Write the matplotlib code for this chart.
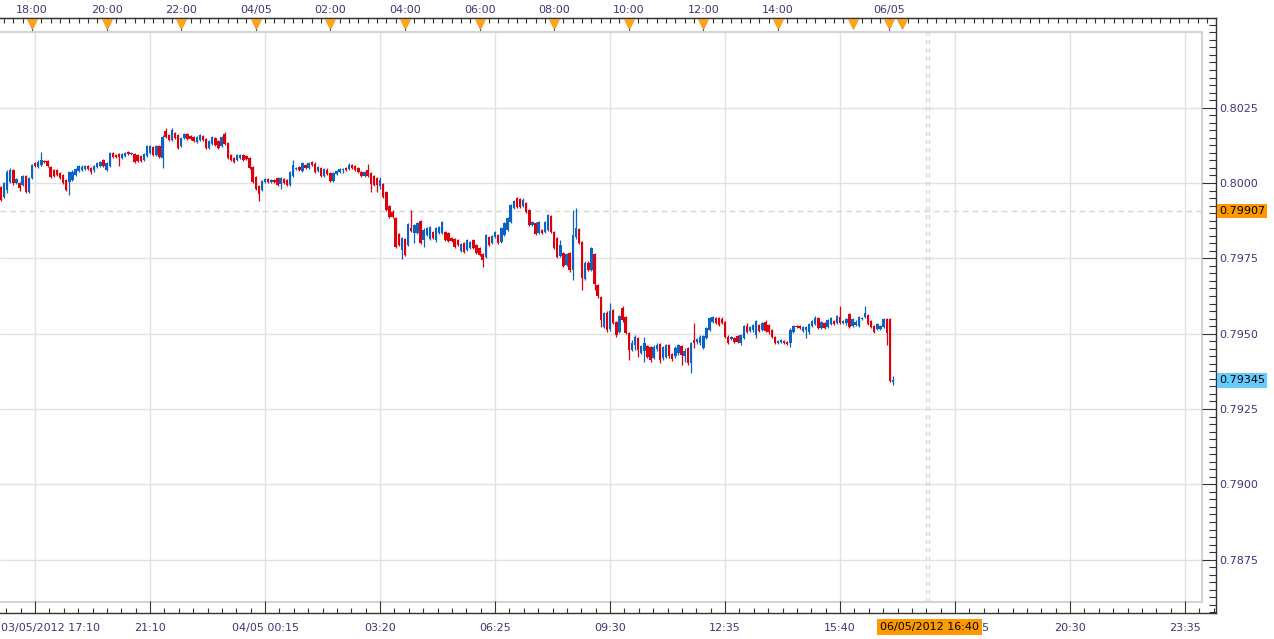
import matplotlib
matplotlib.use("Agg")
import matplotlib.pyplot as plt
import matplotlib.transforms as mtransforms
from matplotlib.patches import Rectangle
from matplotlib.ticker import MultipleLocator

# 5 minute candles, prices in points (1 point = 0.00001)
opens = [
    79987, 79954, 79977, 80003, 80043, 80000, 80000, 79993, 80023, 79970,
    80017, 80066, 80053, 80060, 80073, 80073, 80053, 80043, 80043, 80033,
    80027, 80010, 80003, 80010, 80027, 80040, 80043, 80046, 80056, 80050,
    80043, 80053, 80056, 80076, 80043, 80056, 80100, 80093, 80096, 80083,
    80090, 80103, 80096, 80096, 80093, 80090, 80076, 80090, 80100, 80120,
    80093, 80123, 80083, 80173, 80159, 80143, 80166, 80159, 80123, 80149,
    80163, 80156, 80153, 80136, 80143, 80156, 80146, 80116, 80129, 80149,
    80139, 80123, 80163, 80133, 80093, 80083, 80076, 80083, 80093, 80090,
    80083, 80053, 80020, 79990, 79977, 80003, 80013, 80003, 80010, 80017,
    79997, 80013, 80010, 79993, 80023, 80046, 80053, 80040, 80060, 80050,
    80070, 80063, 80040, 80050, 80023, 80043, 80033, 80007, 80030, 80037,
    80043, 80050, 80046, 80060, 80056, 80050, 80037, 80023, 80043, 80033,
    80023, 80017, 79990, 79997, 79970, 79924, 79904, 79884, 79831, 79778,
    79814, 79794, 79851, 79834, 79834, 79874, 79811, 79827, 79814, 79837,
    79811, 79834, 79834, 79837, 79834, 79817, 79814, 79811, 79774, 79801,
    79778, 79784, 79811, 79794, 79784, 79764, 79754, 79821, 79801, 79821,
    79827, 79804, 79827, 79844, 79871, 79917, 79950, 79947, 79924, 79934,
    79910, 79861, 79867, 79834, 79844, 79837, 79844, 79890, 79837, 79817,
    79757, 79767, 79728, 79767, 79711, 79820, 79847, 79804, 79681, 79734,
    79711, 79764, 79661, 79622, 79522, 79568, 79515, 79578, 79538, 79505,
    79585, 79555, 79502, 79446, 79462, 79485, 79435, 79442, 79459, 79456,
    79419, 79449, 79466, 79419, 79422, 79462, 79432, 79425, 79435, 79459,
    79425, 79452, 79402, 79479, 79472, 79469, 79452, 79485, 79512, 79538,
    79552, 79552, 79548, 79538, 79489, 79482, 79485, 79492, 79469, 79485,
    79525, 79509, 79512, 79495, 79529, 79512, 79538, 79529, 79512, 79489,
    79469, 79472, 79475, 79472, 79469, 79505, 79525, 79525, 79509, 79512,
    79505, 79525, 79532, 79552, 79519, 79535, 79522, 79532, 79542, 79535,
    79555, 79535, 79535, 79565, 79525, 79529, 79525, 79548, 79555, 79562,
    79542, 79525, 79515, 79515, 79522, 79548, 79548, 79339,
]
highs = [
    79990, 80003, 80043, 80050, 80046, 80017, 80003, 80027, 80027, 80020,
    80063, 80070, 80076, 80103, 80076, 80076, 80056, 80046, 80046, 80037,
    80030, 80013, 80040, 80043, 80050, 80060, 80060, 80060, 80060, 80053,
    80060, 80070, 80073, 80080, 80070, 80103, 80103, 80096, 80100, 80100,
    80103, 80106, 80103, 80100, 80096, 80093, 80100, 80126, 80126, 80123,
    80126, 80126, 80159, 80183, 80163, 80183, 80169, 80163, 80153, 80166,
    80166, 80159, 80156, 80156, 80163, 80159, 80149, 80143, 80156, 80153,
    80143, 80156, 80169, 80136, 80096, 80086, 80096, 80096, 80096, 80093,
    80086, 80056, 80023, 79993, 80010, 80017, 80017, 80013, 80013, 80020,
    80020, 80017, 80013, 80040, 80076, 80053, 80056, 80070, 80063, 80070,
    80073, 80070, 80056, 80053, 80050, 80050, 80037, 80037, 80043, 80050,
    80050, 80053, 80066, 80063, 80060, 80053, 80040, 80040, 80063, 80037,
    80027, 80020, 80020, 80000, 79973, 79927, 79910, 79887, 79834, 79820,
    79817, 79867, 79910, 79864, 79870, 79877, 79851, 79854, 79857, 79841,
    79854, 79857, 79874, 79841, 79837, 79821, 79817, 79814, 79800, 79804,
    79814, 79807, 79814, 79797, 79787, 79767, 79831, 79824, 79827, 79841,
    79831, 79854, 79870, 79887, 79930, 79944, 79953, 79950, 79950, 79937,
    79913, 79874, 79870, 79874, 79847, 79874, 79897, 79894, 79841, 79821,
    79811, 79771, 79767, 79771, 79910, 79917, 79851, 79807, 79741, 79741,
    79787, 79767, 79665, 79625, 79572, 79575, 79602, 79582, 79542, 79562,
    79592, 79558, 79505, 79479, 79495, 79489, 79462, 79489, 79462, 79459,
    79462, 79469, 79469, 79459, 79466, 79466, 79435, 79459, 79466, 79462,
    79452, 79456, 79472, 79535, 79485, 79495, 79495, 79522, 79555, 79558,
    79555, 79555, 79555, 79542, 79495, 79492, 79489, 79495, 79499, 79529,
    79535, 79525, 79532, 79545, 79532, 79538, 79545, 79532, 79515, 79492,
    79479, 79482, 79479, 79475, 79519, 79529, 79529, 79529, 79525, 79525,
    79535, 79545, 79558, 79555, 79542, 79538, 79548, 79555, 79545, 79562,
    79592, 79545, 79552, 79568, 79552, 79545, 79558, 79555, 79592, 79565,
    79545, 79529, 79535, 79529, 79552, 79552, 79552, 79359,
]
lows = [
    79940, 79950, 79967, 80000, 79993, 79997, 79973, 79990, 79967, 79967,
    80013, 80053, 80050, 80056, 80066, 80053, 80017, 80020, 80023, 80013,
    79997, 79973, 79960, 80007, 80023, 80037, 80040, 80043, 80043, 80030,
    80037, 80050, 80053, 80053, 80040, 80053, 80083, 80083, 80056, 80080,
    80086, 80093, 80093, 80066, 80070, 80070, 80073, 80086, 80096, 80090,
    80090, 80083, 80050, 80149, 80139, 80139, 80146, 80113, 80120, 80146,
    80143, 80143, 80136, 80133, 80139, 80139, 80113, 80113, 80126, 80123,
    80113, 80120, 80126, 80080, 80073, 80066, 80073, 80080, 80073, 80076,
    80046, 80000, 79977, 79940, 79973, 80000, 80000, 80000, 80000, 79990,
    79980, 79997, 79990, 79990, 80020, 80043, 80040, 80037, 80046, 80046,
    80056, 80033, 80037, 80020, 80020, 80027, 80003, 80003, 80027, 80033,
    80033, 80040, 80043, 80046, 80040, 80033, 80020, 80020, 80020, 79970,
    79990, 79970, 79980, 79950, 79907, 79884, 79884, 79784, 79791, 79748,
    79758, 79791, 79837, 79801, 79831, 79797, 79787, 79824, 79810, 79814,
    79804, 79831, 79831, 79807, 79804, 79804, 79784, 79791, 79771, 79767,
    79774, 79781, 79781, 79764, 79757, 79721, 79751, 79790, 79797, 79817,
    79797, 79801, 79824, 79841, 79867, 79914, 79917, 79917, 79920, 79900,
    79857, 79857, 79827, 79831, 79831, 79834, 79841, 79834, 79781, 79751,
    79754, 79721, 79724, 79704, 79678, 79814, 79797, 79645, 79678, 79707,
    79707, 79645, 79618, 79522, 79518, 79505, 79508, 79532, 79489, 79502,
    79538, 79498, 79412, 79442, 79446, 79422, 79432, 79405, 79419, 79405,
    79415, 79442, 79402, 79412, 79419, 79419, 79409, 79419, 79429, 79396,
    79405, 79396, 79369, 79452, 79465, 79462, 79449, 79482, 79509, 79535,
    79532, 79525, 79532, 79485, 79466, 79479, 79469, 79469, 79462, 79482,
    79502, 79505, 79505, 79485, 79505, 79509, 79505, 79499, 79485, 79466,
    79466, 79469, 79466, 79462, 79456, 79502, 79519, 79515, 79505, 79485,
    79499, 79522, 79529, 79515, 79515, 79515, 79519, 79529, 79529, 79532,
    79532, 79532, 79529, 79519, 79522, 79525, 79522, 79545, 79552, 79529,
    79519, 79502, 79512, 79512, 79519, 79462, 79339, 79329,
]
closes = [
    79944, 80000, 80037, 80043, 80000, 80013, 79983, 80023, 79970, 80017,
    80060, 80056, 80070, 80076, 80070, 80056, 80020, 80023, 80027, 80017,
    80000, 79977, 80037, 80037, 80046, 80056, 80053, 80056, 80046, 80037,
    80056, 80066, 80070, 80056, 80066, 80100, 80086, 80086, 80086, 80096,
    80100, 80096, 80100, 80070, 80073, 80073, 80096, 80123, 80123, 80093,
    80123, 80086, 80153, 80153, 80143, 80176, 80149, 80116, 80149, 80163,
    80146, 80146, 80139, 80153, 80159, 80143, 80116, 80139, 80153, 80126,
    80116, 80153, 80129, 80083, 80076, 80070, 80093, 80093, 80076, 80080,
    80050, 80003, 79980, 79963, 80007, 80013, 80003, 80010, 80003, 79993,
    80017, 80000, 79993, 80037, 80060, 80050, 80043, 80066, 80050, 80066,
    80060, 80037, 80053, 80023, 80046, 80030, 80007, 80033, 80040, 80046,
    80046, 80043, 80060, 80050, 80043, 80037, 80023, 80037, 80023, 79997,
    79993, 79993, 80010, 79954, 79910, 79887, 79887, 79787, 79794, 79817,
    79761, 79864, 79841, 79861, 79867, 79801, 79844, 79851, 79854, 79817,
    79851, 79854, 79870, 79811, 79807, 79807, 79787, 79794, 79797, 79771,
    79811, 79804, 79784, 79767, 79761, 79744, 79827, 79794, 79824, 79837,
    79801, 79851, 79867, 79884, 79927, 79940, 79920, 79920, 79944, 79904,
    79861, 79870, 79831, 79870, 79834, 79870, 79894, 79837, 79784, 79754,
    79794, 79724, 79764, 79711, 79827, 79851, 79801, 79685, 79734, 79711,
    79784, 79665, 79625, 79545, 79568, 79512, 79575, 79535, 79495, 79558,
    79545, 79502, 79446, 79469, 79489, 79446, 79459, 79469, 79422, 79412,
    79456, 79462, 79412, 79456, 79462, 79425, 79415, 79452, 79462, 79429,
    79442, 79402, 79469, 79469, 79482, 79489, 79492, 79519, 79552, 79555,
    79535, 79529, 79535, 79489, 79469, 79489, 79472, 79472, 79495, 79525,
    79505, 79522, 79529, 79542, 79509, 79535, 79509, 79505, 79489, 79469,
    79475, 79479, 79469, 79465, 79512, 79525, 79522, 79519, 79522, 79522,
    79532, 79542, 79552, 79519, 79538, 79519, 79545, 79552, 79532, 79558,
    79535, 79542, 79548, 79522, 79548, 79538, 79555, 79552, 79568, 79532,
    79522, 79505, 79532, 79525, 79548, 79502, 79342, 79345,
]
first_min = -50   # first candle 03/05 17:10, minutes after 03/05 18:00
step_min = 5

top_ticks = [0, 120, 240, 360, 480, 600, 720, 840, 960, 1080, 1200, 1379]
top_labels = ["18:00", "20:00", "22:00", "04/05", "02:00", "04:00",
              "06:00", "08:00", "10:00", "12:00", "14:00", "06/05"]
top_marks = top_ticks + [1320, 1400]
bottom_ticks = [5, 190, 375, 560, 745, 930, 1115, 1300, 1485, 1670, 1855]
bottom_labels = ["", "21:10", "04/05 00:15", "03:20", "06:25", "09:30",
                 "12:35", "15:40", "06/05 17:25", "20:30", "23:35"]
first_label = "03/05/2012 17:10"
price_ticks = [0.7875, 0.7900, 0.7925, 0.7950, 0.7975, 0.8000, 0.8025]
price_labels = ["0.7875", "0.7900", "0.7925", "0.7950", "0.7975", "0.8000", "0.8025"]
ref_price = 0.79907
last_price = 0.79345
cursor_label = "06/05/2012 16:40"
cursor_min = 1364
now_lines = [1438, 1443]

TEXT = "#38387e"
AXC = "#333333"
UP = "#0a64c8"
DOWN = "#e0000b"
ORANGE = "#ff9900"

W, H = 1274, 639
PX_MIN = 0.6216      # pixels per minute
PX_PRICE = 30133     # pixels per price unit

x0 = -51.5
x1 = x0 + 1216 / PX_MIN
y1 = 0.8 + 165 / PX_PRICE
y0 = y1 - 595 / PX_PRICE
fx1 = x0 + 1202 / PX_MIN
fy1 = y1 - 13.5 / PX_PRICE
fy0 = y1 - 583.5 / PX_PRICE

fig = plt.figure(figsize=(W / 100, H / 100), dpi=100, facecolor="white")
ax = fig.add_axes([0, (H - 613) / H, 1216 / W, 595 / H])
ax.set_xlim(x0, x1)
ax.set_ylim(y0, y1)

# grid + inner frame
ax.vlines(bottom_ticks, fy0, fy1, colors="#e2e2e2", lw=1, zorder=0.5)
ax.hlines(price_ticks, x0, fx1, colors="#e2e2e2", lw=1, zorder=0.5)
ax.hlines(ref_price, x0, fx1, colors="#d6d6d6", lw=1, linestyles=(0, (4, 3)), zorder=0.6)
ax.vlines(now_lines, fy0, fy1, colors="#d6d6d6", lw=1, linestyles=(0, (3, 3)), zorder=0.6)
frame = Rectangle((x0 - 50, fy0), fx1 - x0 + 50, fy1 - fy0, fill=False,
                  ec="#cdd5df", lw=1.5, zorder=1)
ax.add_patch(frame)

# candles
t = [first_min + step_min * k for k in range(len(closes))]
o = [v / 1e5 for v in opens]
c = [v / 1e5 for v in closes]
hi = [v / 1e5 for v in highs]
lo = [v / 1e5 for v in lows]
cols = [UP if cc >= oo else DOWN for oo, cc in zip(o, c)]
ax.vlines(t, lo, hi, colors=cols, lw=0.9, zorder=3)
heights = [max(abs(cc - oo), 0.00002) for oo, cc in zip(o, c)]
bottoms = [min(oo, cc) for oo, cc in zip(o, c)]
ax.bar(t, heights, bottom=bottoms, width=3.9, color=cols, linewidth=0, zorder=3)

# spines
ax.spines["left"].set_visible(False)
for s in ["top", "right", "bottom"]:
    ax.spines[s].set_color(AXC)
    ax.spines[s].set_linewidth(1)

# bottom axis
ax.set_xticks(bottom_ticks, bottom_labels)
ax.xaxis.set_minor_locator(MultipleLocator(185 / 8, offset=5))
ax.tick_params(axis="x", which="major", direction="in", length=9, width=0.8,
               color=AXC, labelcolor=TEXT, labelsize=8, pad=7.5)
ax.tick_params(axis="x", which="minor", direction="in", length=3.5, width=0.8, color=AXC)

# right price axis
ax.yaxis.tick_right()
ax.set_yticks(price_ticks, price_labels)
ax.yaxis.set_minor_locator(MultipleLocator(0.00025))
ax.tick_params(axis="y", which="major", direction="in", length=10, width=0.8,
               color=AXC, labelcolor=TEXT, labelsize=8, pad=2)
ax.tick_params(axis="y", which="minor", direction="in", length=5, width=0.8, color=AXC)

# top time axis
secax = ax.secondary_xaxis("top")
secax.set_xticks(top_ticks, top_labels)
secax.xaxis.set_minor_locator(MultipleLocator(15))
secax.tick_params(which="major", direction="in", length=10, width=0.8,
                  color=AXC, labelcolor=TEXT, labelsize=8, pad=2)
secax.tick_params(which="minor", direction="in", length=3.5, width=0.8, color=AXC)
secax.spines["top"].set_color(AXC)

trans = mtransforms.blended_transform_factory(ax.transData, ax.transAxes)
ax.plot(top_marks, [1 - 5.5 / 595] * len(top_marks), ls="none", marker="v", ms=7,
        mfc="#ffa21f", mec="#f39200", mew=0.5, transform=trans, clip_on=False, zorder=5)

# labels / boxes
ax.text(0.001, -10 / 595, first_label, transform=ax.transAxes, ha="left", va="top",
        fontsize=8, color=TEXT)
ax.text(cursor_min, -9 / 595, cursor_label, transform=trans, ha="left", va="top",
        fontsize=8, color="black", zorder=10,
        bbox=dict(boxstyle="square,pad=0.3", fc=ORANGE, ec="none"))
ptrans = mtransforms.blended_transform_factory(ax.transAxes, ax.transData)
ax.text(1.0025, ref_price, "0.79907", transform=ptrans, ha="left", va="center",
        fontsize=8, color="black", zorder=10,
        bbox=dict(boxstyle="square,pad=0.2", fc=ORANGE, ec="none"))
ax.text(1.0025, last_price, "0.79345", transform=ptrans, ha="left", va="center",
        fontsize=8, color="black", zorder=10,
        bbox=dict(boxstyle="square,pad=0.2", fc="#66ccff", ec="none"))

fig.savefig("out.png", dpi=100, facecolor="white")
